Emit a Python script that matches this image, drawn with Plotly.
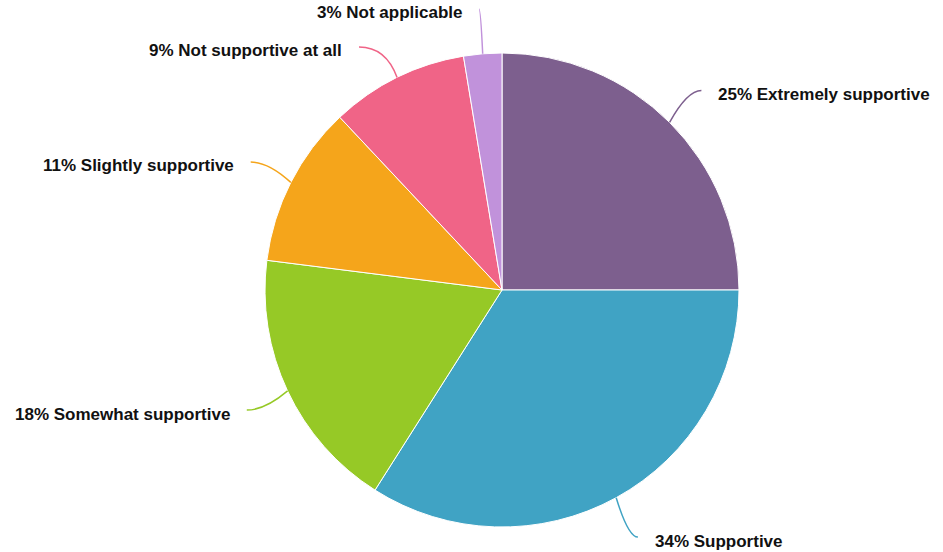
import math
import plotly.graph_objects as go

categories = ["Extremely supportive", "Supportive", "Somewhat supportive",
              "Slightly supportive", "Not supportive at all", "Not applicable"]
values = [25, 34, 18, 11, 9.4, 2.6]
colors = ["#7d5f8e", "#40a3c4", "#96c926", "#f5a51b", "#f06487", "#c192db"]

W, H = 943, 552
cx, cy, R = 502, 290, 237
LR = 282      # radius where the leader line ends
GAP = 38      # minimum vertical spacing between labels on one side

fig = go.Figure()
fig.add_trace(go.Pie(
    labels=categories, values=values, sort=False, direction="clockwise",
    rotation=0, textinfo="none", hoverinfo="label+percent",
    marker=dict(colors=colors, line=dict(color="white", width=1)),
    domain=dict(x=[(cx - R) / W, (cx + R) / W], y=[(H - cy - R) / H, (H - cy + R) / H]),
    showlegend=False,
))

total = sum(values)
items = []
cum = 0
for cat, v, col in zip(categories, values, colors):
    mid = (cum + v / 2) / total * 2 * math.pi
    cum += v
    s, c = math.sin(mid), math.cos(mid)
    items.append(dict(cat=cat, v=v, col=col, s=s, c=c,
                      x0=cx + R * s, y0=cy - R * c,
                      x2=cx + LR * s, y2=cy - LR * c, right=s >= 0))

# simple overlap avoidance: push labels down along the circle
for side in (True, False):
    grp = sorted([it for it in items if it["right"] == side], key=lambda d: d["y2"])
    prev = None
    for it in grp:
        if prev is not None and it["y2"] < prev + GAP:
            it["y2"] = prev + GAP
            dy = it["y2"] - cy
            dx = math.sqrt(max(LR ** 2 - dy ** 2, 0))
            it["x2"] = cx + (dx if side else -dx)
        prev = it["y2"]

shapes, annotations = [], []
for it in items:
    x1 = cx + 262 * it["s"]
    y1 = it["y2"]
    shapes.append(dict(type="path", xref="x", yref="y",
                       path=f"M {it['x0']:.1f},{it['y0']:.1f} Q {x1:.1f},{y1:.1f} {it['x2']:.1f},{it['y2']:.1f}",
                       line=dict(color=it["col"], width=1.5)))
    pct = int(it["v"] / total * 100 + 0.5)
    annotations.append(dict(
        x=it["x2"] + (15 if it["right"] else -15), y=it["y2"] + 4, xref="x", yref="y",
        text=f"<b>{pct}% {it['cat']}</b>", showarrow=False,
        xanchor="left" if it["right"] else "right", yanchor="middle",
        font=dict(family="Liberation Sans, Arial, sans-serif", size=17, color="#111111"),
    ))

fig.update_layout(
    width=W, height=H, margin=dict(l=0, r=0, t=0, b=0),
    paper_bgcolor="white", plot_bgcolor="rgba(0,0,0,0)",
    xaxis=dict(range=[0, W], visible=False, fixedrange=True),
    yaxis=dict(range=[H, 0], visible=False, fixedrange=True),
    shapes=shapes, annotations=annotations,
)

body = fig.to_html(full_html=False, include_plotlyjs=True, config={"displayModeBar": False})
html = ("<!DOCTYPE html><html><head><meta charset='utf-8'>"
        "<style>html,body{margin:0;padding:0;overflow:hidden;background:white;}</style>"
        "</head><body>" + body + "</body></html>")
with open("out.html", "w", encoding="utf-8") as f:
    f.write(html)
